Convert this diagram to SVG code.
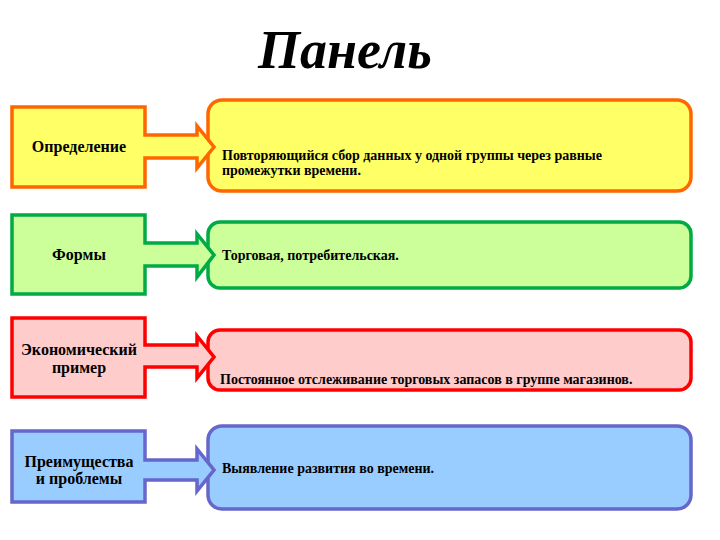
<svg xmlns="http://www.w3.org/2000/svg" width="720" height="540" viewBox="0 0 720 540">
<style>
.lbl{font-family:'Liberation Serif','Times New Roman',serif;font-size:16px;font-weight:bold;fill:#000;text-anchor:middle}
.txt{font-family:'Liberation Serif','Times New Roman',serif;font-size:14px;font-weight:bold;fill:#000}
.title{font-family:'Liberation Serif','Times New Roman',serif;font-size:54px;font-weight:bold;font-style:italic;fill:#000}
.s{stroke-width:3.5;stroke-linejoin:miter}
.y{fill:#FFFF66;stroke:#FF6600}
.g{fill:#CCFF99;stroke:#00AA44}
.r{fill:#FFCCCC;stroke:#FF0000}
.b{fill:#99CCFF;stroke:#6666CC}
</style>
<rect width="720" height="540" fill="#FFFFFF"/>
<text class="title" x="258" y="68">Панель</text>
<g id="connectors"/>
<g id="def-box"><rect class="s y" x="208" y="100" width="483" height="91" rx="14"/>
<text class="txt" x="222" y="160">Повторяющийся сбор данных у одной группы через равные</text>
<text class="txt" x="222" y="175">промежутки времени.</text></g>
<g id="def"><path class="s y" d="M12,107 H145 V135 H197 V126 L214,147 L197,168 V158 H145 V187 H12 Z"/>
<text class="lbl" x="79" y="152">Определение</text></g>
<g id="forms-box"><rect class="s g" x="208" y="222" width="483" height="66" rx="12"/>
<text class="txt" x="222" y="260">Торговая, потребительская.</text></g>
<g id="forms"><path class="s g" d="M12,215 H145 V243 H197 V234 L214,255 L197,277 V266 H145 V294 H12 Z"/>
<text class="lbl" x="79" y="260">Формы</text></g>
<g id="econ-box"><rect class="s r" x="208" y="330" width="483" height="60" rx="12"/>
<text class="txt" x="220" y="384">Постоянное отслеживание торговых запасов в группе магазинов.</text></g>
<g id="econ"><path class="s r" d="M12,318 H145 V345 H197 V336 L214,357 L197,378 V367 H145 V397 H12 Z"/>
<text class="lbl" x="79" y="355">Экономический</text>
<text class="lbl" x="79" y="373">пример</text></g>
<g id="adv-box"><rect class="s b" x="208" y="426" width="483" height="83" rx="14"/>
<text class="txt" x="222" y="473">Выявление развития во времени.</text></g>
<g id="adv"><path class="s b" d="M12,431 H145 V460 H197 V449 L214,470 L197,491 V480 H145 V502 H12 Z"/>
<text class="lbl" x="79" y="467">Преимущества</text>
<text class="lbl" x="79" y="484">и проблемы</text></g>
</svg>
